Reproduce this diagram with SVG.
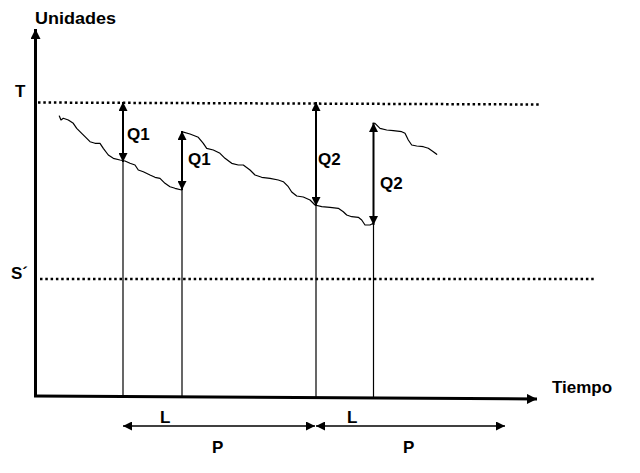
<svg xmlns="http://www.w3.org/2000/svg" width="640" height="473" viewBox="0 0 640 473">
<style>
text{font-family:"Liberation Sans",Arial,sans-serif;font-weight:bold;font-size:17px;fill:#000}
.dot{stroke:#000;stroke-width:2.5;stroke-dasharray:2.5 2.8;fill:none}
.curve{stroke:#000;stroke-width:1.2;fill:none;stroke-linejoin:round;stroke-linecap:round}
.q{stroke:#000;stroke-width:2;fill:none}
.thin{stroke:#000;stroke-width:1.2;fill:none}
.dim{stroke:#000;stroke-width:1.5;fill:none}
</style>
<defs>
<marker id="ah" viewBox="0 0 10 10" refX="10" refY="5" markerWidth="10" markerHeight="9" markerUnits="userSpaceOnUse" orient="auto-start-reverse">
<path d="M0,0 L10,5 L0,10 Z" fill="#000"/>
</marker>
<marker id="axh" viewBox="0 0 10 10" refX="10" refY="5" markerWidth="12" markerHeight="10" markerUnits="userSpaceOnUse" orient="auto">
<path d="M0,0 L10,5 L0,10 Z" fill="#000"/>
</marker>
</defs>
<g id="axes">
<line x1="35.5" y1="397" x2="35.5" y2="29" stroke="#000" stroke-width="3" marker-end="url(#axh)"/>
<line x1="34" y1="396" x2="537" y2="399" stroke="#000" stroke-width="3" marker-end="url(#axh)"/>
</g>
<g id="levels">
<line class="dot" x1="38" y1="102.5" x2="539" y2="104.5"/>
<line class="dot" x1="40" y1="279" x2="596" y2="279"/>
</g>
<g id="curves">
<polyline class="curve" points="59.3,116 61,120 63.3,118.3 68.3,120 73.3,123.3 76.7,128.3 81.7,133.3 85,136.7 90,141.7 95,143.3 100,143.3 103.3,148.3 108.3,155 113.3,158.3 120,160 125,161 130,163.3 135,165 138.3,170 143.3,171.7 150,175 155,177.3 160,178.3 165,183.3 170,186.7 175,188.3 181.7,190"/>
<polyline class="curve" points="181.7,131.7 190,134 198.3,137.3 203.3,143.3 206.7,148.3 213.3,150 220,153.3 225,158.3 231.7,163.3 238.3,165 243.3,165 250,170 255,175 261.7,177.3 270,178.3 278.3,180 283.3,181.7 288.3,186.7 291.7,192 296.7,196 303.3,197 310,200 315,205 321.7,206.7 330,207.3 338.3,208.3 343.3,211.7 346.7,215 351.7,216.7 358.3,217.3 361.7,220 365,225 370,225 373.3,223.3"/>
<polyline class="curve" points="373,123 375,123.3 380,128.3 386.7,130 393.3,130.7 401.7,131.7 405,133.3 408.3,140 411.7,145 416.7,146 423.3,146.7 428.3,148.3 433.3,151.7 436.7,154.3"/>
</g>
<g id="connectors">
<line class="q" x1="123" y1="102" x2="123" y2="162" marker-start="url(#ah)" marker-end="url(#ah)"/>
<line class="thin" x1="123" y1="160" x2="123" y2="396"/>
<line class="q" x1="182" y1="131" x2="182" y2="190" marker-start="url(#ah)" marker-end="url(#ah)"/>
<line class="thin" x1="182" y1="188" x2="182" y2="397"/>
<line class="q" x1="316" y1="102" x2="316" y2="206" marker-start="url(#ah)" marker-end="url(#ah)"/>
<line class="thin" x1="316" y1="204" x2="316" y2="398"/>
<line class="q" x1="373.5" y1="123" x2="373.5" y2="225" marker-start="url(#ah)" marker-end="url(#ah)"/>
<line class="thin" x1="373.5" y1="223" x2="373.5" y2="398"/>
<line class="dim" x1="123" y1="426" x2="315" y2="426" marker-start="url(#ah)" marker-end="url(#ah)"/>
<line class="dim" x1="316" y1="426" x2="505" y2="426" marker-start="url(#ah)" marker-end="url(#ah)"/>
</g>
<g id="labels">
<text x="35" y="24" textLength="81" lengthAdjust="spacingAndGlyphs">Unidades</text>
<text x="15" y="97">T</text>
<text x="11" y="279">S´</text>
<text x="552" y="393">Tiempo</text>
<text x="127" y="140">Q1</text>
<text x="188" y="165">Q1</text>
<text x="318" y="165">Q2</text>
<text x="380" y="189">Q2</text>
<text x="160" y="423">L</text>
<text x="212" y="453">P</text>
<text x="347" y="423">L</text>
<text x="403" y="453">P</text>
</g>
</svg>
